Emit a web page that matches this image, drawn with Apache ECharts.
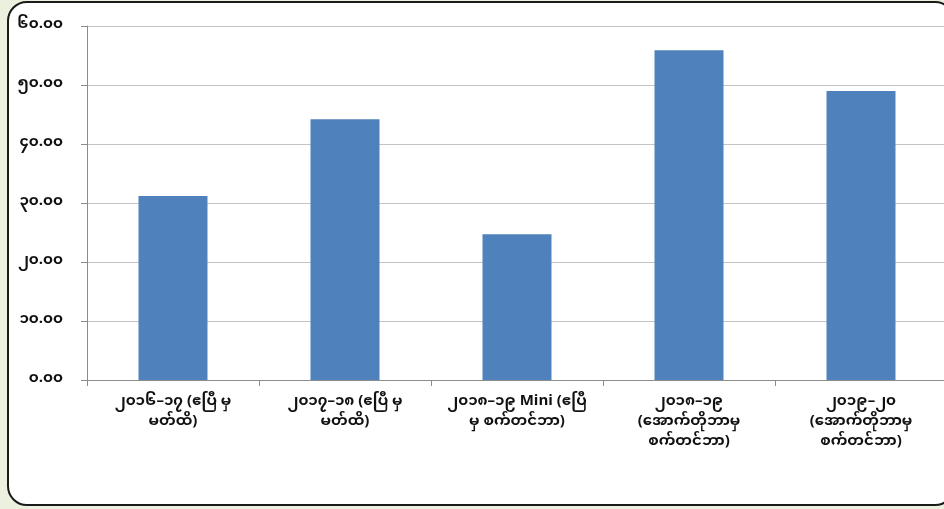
<!DOCTYPE html>
<html>
<head>
<meta charset="utf-8">
<script src="https://cdn.jsdelivr.net/npm/echarts@6/dist/echarts.min.js"></script>
<style>
html,body{margin:0;padding:0;width:944px;height:509px;background:#ebf1de;overflow:hidden;}
#frame{position:absolute;left:7px;top:1px;width:948px;height:505px;border:2px solid #1a1a1a;border-radius:20px;background:#fff;box-sizing:border-box;}
#chart{position:absolute;left:0;top:0;width:960px;height:509px;}
</style>
</head>
<body>
<div id="frame"></div>
<div id="chart"></div>
<script>
const categories = [
  "၂၀၁၆–၁၇ (ဧပြီ မှ\nမတ်ထိ)",
  "၂၀၁၇–၁၈ (ဧပြီ မှ\nမတ်ထိ)",
  "၂၀၁၈–၁၉ Mini (ဧပြီ\nမှ စက်တင်ဘာ)",
  "၂၀၁၈–၁၉\n(အောက်တိုဘာမှ\nစက်တင်ဘာ)",
  "၂၀၁၉–၂၀\n(အောက်တိုဘာမှ\nစက်တင်ဘာ)"
];
const values = [31.2, 44.2, 24.7, 55.9, 49.0];
const yMin = 0, yMax = 60, yStep = 10;
const myDigits = ['၀','၁','၂','၃','၄','၅','၆','၇','၈','၉'];
function toMy(s){ return s.replace(/[0-9]/g, d => myDigits[+d]); }

const fontFam = '"Noto Sans Myanmar","Padauk","Myanmar Text","Noto Sans","DejaVu Sans",sans-serif';
const chart = echarts.init(document.getElementById('chart'));
chart.setOption({
  animation: false,
  backgroundColor: 'transparent',
  grid: {left: 87, width: 860, top: 26, height: 354, containLabel: false},
  xAxis: {
    type: 'category',
    data: categories,
    axisLine: {lineStyle: {color: '#8c8c8c', width: 1}},
    axisTick: {show: true, length: 6, lineStyle: {color: '#8c8c8c'}},
    axisLabel: {interval: 0, color: '#111', fontSize: 15, fontWeight: 'bold', fontFamily: fontFam, lineHeight: 20, margin: 13, align: 'center'}
  },
  yAxis: {
    type: 'value',
    min: yMin, max: yMax, interval: yStep,
    axisLine: {show: true, lineStyle: {color: '#8c8c8c', width: 1}},
    axisTick: {show: true, length: 6, lineStyle: {color: '#8c8c8c'}},
    splitLine: {lineStyle: {color: '#c4c4c4', width: 1}},
    axisLabel: {color: '#111', fontSize: 15, fontWeight: 'bold', fontFamily: fontFam, margin: 24,
      formatter: v => toMy(v.toFixed(2))}
  },
  series: [{
    type: 'bar',
    data: values,
    barWidth: 69,
    itemStyle: {color: '#4f81bd'}
  }]
});
</script>
</body>
</html>
